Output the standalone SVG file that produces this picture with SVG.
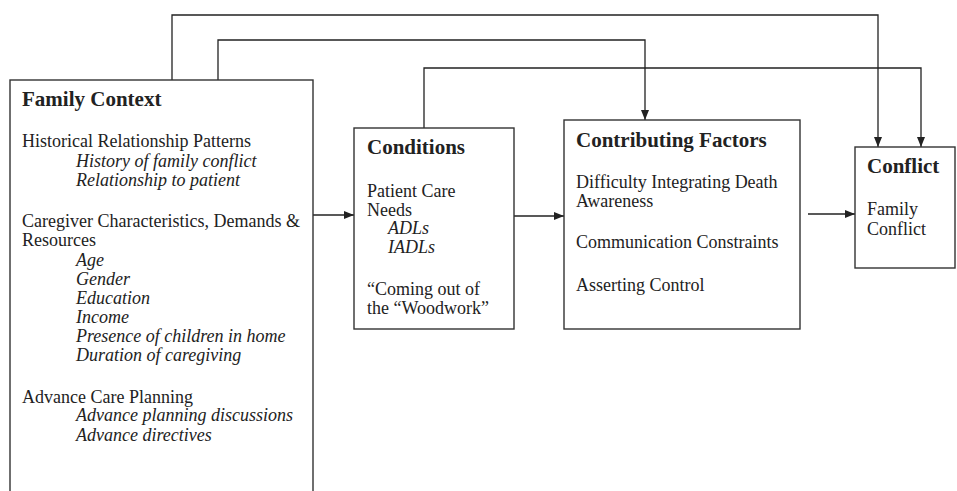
<svg xmlns="http://www.w3.org/2000/svg" width="957" height="491" viewBox="0 0 957 491">
<style>
.box{fill:#fff;stroke:#333;stroke-width:1.4}
.ln{fill:none;stroke:#222;stroke-width:1.3}
text{font-family:"Liberation Serif","Times New Roman",serif;fill:#222;font-size:18px}
.t{font-weight:bold;font-size:21px}
.i{font-style:italic}
</style>
<defs>
<marker id="ah" markerUnits="userSpaceOnUse" markerWidth="10" markerHeight="8" refX="10" refY="4" orient="auto">
<path d="M0,0 L10,4 L0,8 Z" fill="#222"/>
</marker>
</defs>
<rect width="957" height="491" fill="#fff"/>
<g id="connectors">
<path class="ln" d="M172,80 V15 H878 V147" marker-end="url(#ah)"/>
<path class="ln" d="M218,80 V40 H645 V120" marker-end="url(#ah)"/>
<path class="ln" d="M424,128 V68 H921 V147" marker-end="url(#ah)"/>
<path class="ln" d="M313,215 H354" marker-end="url(#ah)"/>
<path class="ln" d="M514,216 H564" marker-end="url(#ah)"/>
<path class="ln" d="M808,214 H855" marker-end="url(#ah)"/>
</g>
<g id="family-context">
<rect class="box" x="10" y="80" width="303" height="430"/>
<text class="t" x="22" y="106">Family Context</text>
<text x="22" y="147">Historical Relationship Patterns</text>
<text class="i" x="76" y="167">History of family conflict</text>
<text class="i" x="76" y="186">Relationship to patient</text>
<text x="22" y="227">Caregiver Characteristics, Demands &amp;</text>
<text x="22" y="246">Resources</text>
<text class="i" x="76" y="266">Age</text>
<text class="i" x="76" y="285">Gender</text>
<text class="i" x="76" y="304">Education</text>
<text class="i" x="76" y="323">Income</text>
<text class="i" x="76" y="342">Presence of children in home</text>
<text class="i" x="76" y="361">Duration of caregiving</text>
<text x="22" y="403">Advance Care Planning</text>
<text class="i" x="76" y="421">Advance planning discussions</text>
<text class="i" x="76" y="441">Advance directives</text>
</g>
<g id="conditions">
<rect class="box" x="354" y="128" width="160" height="201"/>
<text class="t" x="367" y="154">Conditions</text>
<text x="367" y="197">Patient Care</text>
<text x="367" y="216">Needs</text>
<text class="i" x="388" y="234">ADLs</text>
<text class="i" x="388" y="253">IADLs</text>
<text x="367" y="295">“Coming out of</text>
<text x="367" y="314">the “Woodwork”</text>
</g>
<g id="contributing-factors">
<rect class="box" x="564" y="120" width="236" height="209"/>
<text class="t" x="576" y="147">Contributing Factors</text>
<text x="576" y="188">Difficulty Integrating Death</text>
<text x="576" y="207">Awareness</text>
<text x="576" y="248">Communication Constraints</text>
<text x="576" y="291">Asserting Control</text>
</g>
<g id="conflict">
<rect class="box" x="855" y="147" width="100" height="121"/>
<text class="t" x="867" y="173">Conflict</text>
<text x="867" y="215">Family</text>
<text x="867" y="235">Conflict</text>
</g>
</svg>
